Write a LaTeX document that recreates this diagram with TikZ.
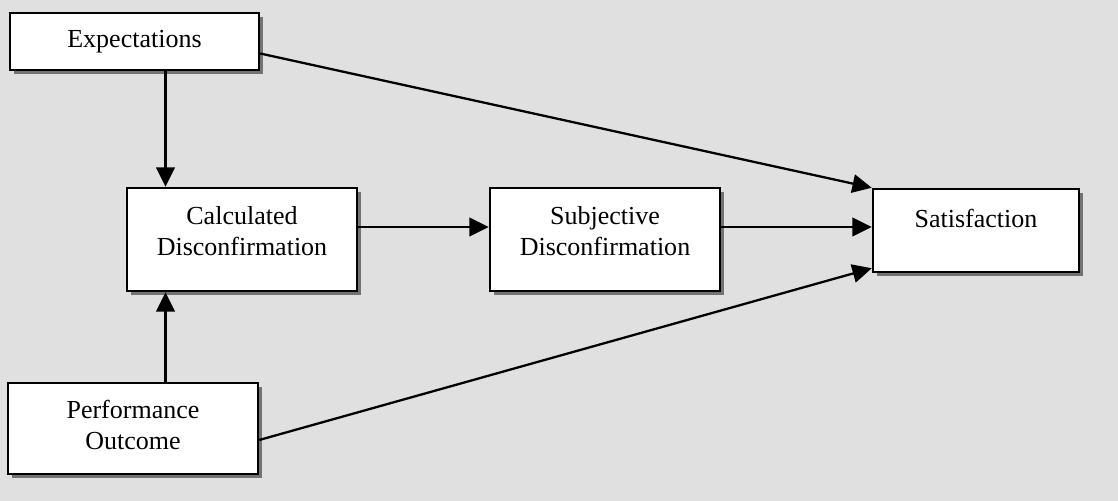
\documentclass[tikz,border=0pt]{standalone}
\usepackage{fontspec}
\setmainfont{Liberation Serif}
\usetikzlibrary{arrows.meta,shadows}

\begin{document}
\begin{tikzpicture}[
    box/.style={draw, line width=1.4pt, fill=white, align=center,
        font=\fontsize{14.8}{17.6}\selectfont,
        drop shadow={shadow xshift=2pt, shadow yshift=-2pt, fill=black!55, opacity=1}},
    arr/.style={line width=1.3pt, -{Triangle[length=11pt,width=10.5pt]}}
]
            % Background
            \fill[black!12] (0,0) rectangle (22.36,10.02);
            \useasboundingbox (0,0) rectangle (22.36,10.02);
            
            % Boxes
            \node[box, minimum width=4.98cm, minimum height=1.14cm] (exp) at (2.69,9.19) {Expectations};
            \node[box, minimum width=4.6cm, minimum height=2.06cm, text depth=9.6pt] (calc) at (4.84,5.23) {Calculated\\Disconfirmation};
            \node[box, minimum width=4.6cm, minimum height=2.06cm, text depth=9.6pt] (subj) at (12.10,5.23) {Subjective\\Disconfirmation};
            \node[box, minimum width=4.12cm, minimum height=1.66cm, text depth=14.2pt] (sat) at (19.52,5.41) {Satisfaction};
            \node[box, minimum width=5.0cm, minimum height=1.82cm, text depth=4.6pt] (perf) at (2.66,1.45) {Performance\\Outcome};
            
            % Vertical arrows into the calculated box
            \coordinate (vx) at (3.31,0);
            \draw[arr] (exp.south -| vx) -- (calc.north -| vx);
            \draw[arr] (perf.north -| vx) -- (calc.south -| vx);
            
            % Arrows along the middle
            \coordinate (hy) at (0,5.48);
            \draw[arr] (calc.east |- hy) -- (subj.west |- hy);
            \draw[arr] (subj.east |- hy) -- (sat.west |- hy);
            
            % Direct arrows to satisfaction
            \draw[arr] ([yshift=-0.24cm]exp.east) -- (sat.north west);
            \draw[arr] ([yshift=-0.23cm]perf.east) -- ([yshift=0.1cm]sat.south west);
        \end{tikzpicture}
\end{document}
